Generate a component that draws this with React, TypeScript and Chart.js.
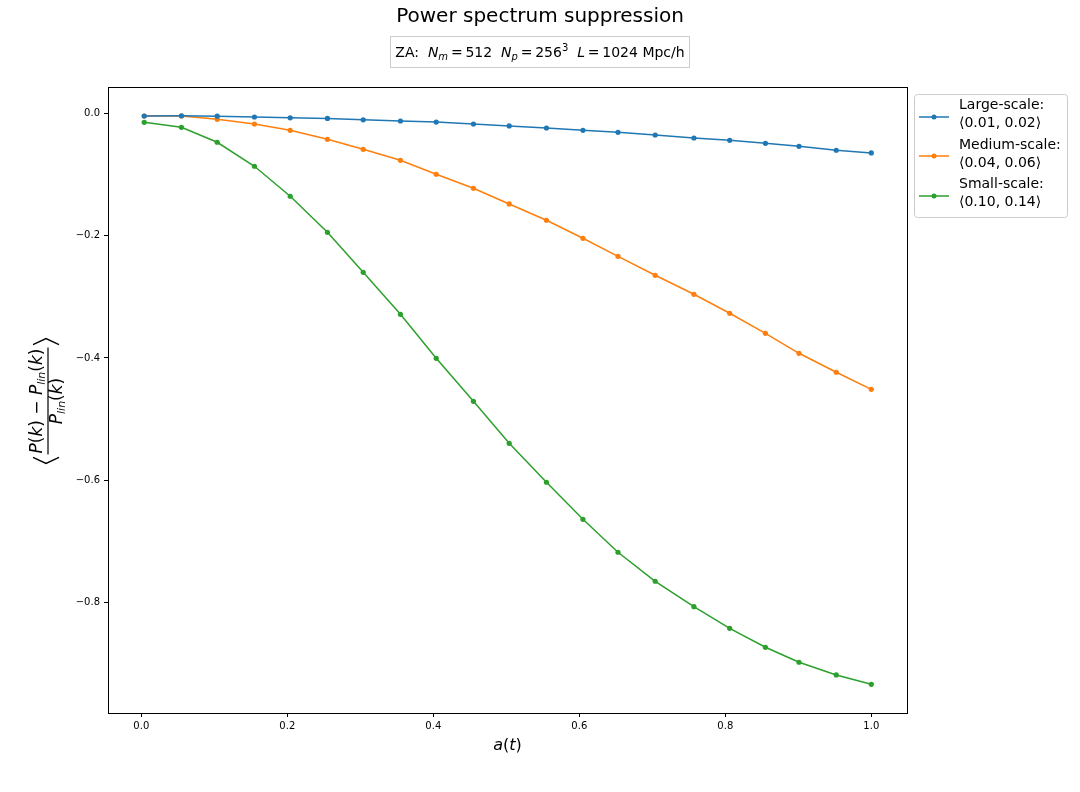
import React, { useEffect, useRef } from "react";
import { Chart, registerables } from "chart.js";

Chart.register(...registerables);

// ---- Data ----
const aValues = [0.004, 0.055, 0.104, 0.155, 0.204, 0.255, 0.304, 0.355, 0.404, 0.455, 0.504, 0.555, 0.605, 0.653, 0.704, 0.757, 0.806, 0.855, 0.901, 0.952, 1.0];
const largeScale = [-0.0038, -0.0035, -0.004, -0.0054, -0.0068, -0.0078, -0.01, -0.012, -0.0138, -0.0169, -0.0201, -0.0234, -0.0272, -0.0305, -0.0349, -0.0398, -0.0436, -0.0485, -0.0534, -0.0599, -0.0643];
const mediumScale = [-0.0038, -0.0038, -0.0092, -0.0169, -0.0272, -0.0419, -0.0583, -0.0763, -0.0992, -0.1221, -0.1478, -0.1745, -0.204, -0.2335, -0.2646, -0.2957, -0.3268, -0.3596, -0.3923, -0.4234, -0.4513];
const smallScale = [-0.0141, -0.0223, -0.0468, -0.0861, -0.1352, -0.1942, -0.2597, -0.3285, -0.4005, -0.4709, -0.5397, -0.6035, -0.6641, -0.7181, -0.7656, -0.8072, -0.8426, -0.8737, -0.8982, -0.919, -0.9343];

const seriesNames = ["Large-scale:", "Medium-scale:", "Small-scale:"];
const seriesRanges = ["\u27E80.01, 0.02\u27E9", "\u27E80.04, 0.06\u27E9", "\u27E80.10, 0.14\u27E9"];
const seriesColors = ["#1f77b4", "#ff7f0e", "#2ca02c"];

const xTicks = [0.0, 0.2, 0.4, 0.6, 0.8, 1.0];
const yTicks = [0.0, -0.2, -0.4, -0.6, -0.8];

const titleText = "Power spectrum suppression";

const FONT = "'DejaVu Sans', 'Noto Sans', sans-serif";
const TS = "\u2009"; // thin space used around '=' as in mathtext

type Seg = { t: string; it?: boolean; sz?: number; dy?: number };

function segFont(s: Seg, base: number) {
  return `${s.it ? "italic " : ""}${s.sz ?? base}px ${FONT}`;
}
function richWidth(ctx: CanvasRenderingContext2D, segs: Seg[], base: number) {
  let w = 0;
  for (const s of segs) {
    ctx.font = segFont(s, base);
    w += ctx.measureText(s.t).width;
  }
  return w;
}
function drawRich(ctx: CanvasRenderingContext2D, segs: Seg[], x: number, y: number, base: number, align: "left" | "center" = "left") {
  let cx = align === "center" ? x - richWidth(ctx, segs, base) / 2 : x;
  ctx.textAlign = "left";
  for (const s of segs) {
    ctx.font = segFont(s, base);
    ctx.fillText(s.t, cx, y + (s.dy ?? 0));
    cx += ctx.measureText(s.t).width;
  }
}

const decorPlugin = {
  id: "decor",
  afterDraw(chart: any) {
    const ctx: CanvasRenderingContext2D = chart.ctx;
    const ca = chart.chartArea;
    ctx.save();
    // frame (all four spines)
    ctx.strokeStyle = "#000";
    ctx.lineWidth = 1;
    ctx.strokeRect(Math.round(ca.left) + 0.5, Math.round(ca.top) + 0.5, Math.round(ca.right - ca.left), Math.round(ca.bottom - ca.top));

    ctx.fillStyle = "#000";
    ctx.textBaseline = "middle";
    // title
    ctx.font = `20px ${FONT}`;
    ctx.textAlign = "center";
    ctx.fillText(titleText, 540, 17);

    // subtitle box
    ctx.textBaseline = "alphabetic";
    const sub: Seg[] = [
      { t: "ZA:  " },
      { t: "N", it: true },
      { t: "m", it: true, sz: 10, dy: 3 },
      { t: `${TS}=${TS}512  ` },
      { t: "N", it: true },
      { t: "p", it: true, sz: 10, dy: 3 },
      { t: `${TS}=${TS}256` },
      { t: "3", sz: 10, dy: -6 },
      { t: "  " },
      { t: "L", it: true },
      { t: `${TS}=${TS}1024 Mpc/h` },
    ];
    const sw = richWidth(ctx, sub, 14);
    const sx = 540 - sw / 2;
    ctx.strokeStyle = "#cccccc";
    ctx.strokeRect(Math.round(sx - 5) + 0.5, 36.5, Math.round(sw + 10), 31);
    ctx.fillStyle = "#000";
    drawRich(ctx, sub, sx, 57, 14);

    // x label
    const xl: Seg[] = [{ t: "a", it: true }, { t: "(" }, { t: "t", it: true }, { t: ")" }];
    drawRich(ctx, xl, 507.5, 749.5, 16, "center");

    // y label (rotated fraction)
    ctx.save();
    ctx.translate(48, 401);
    ctx.rotate(-Math.PI / 2);
    const num: Seg[] = [
      { t: "P", it: true }, { t: "(" }, { t: "k", it: true }, { t: ")" }, { t: " \u2212 " },
      { t: "P", it: true }, { t: "lin", it: true, sz: 11, dy: 3 }, { t: "(" }, { t: "k", it: true }, { t: ")" },
    ];
    const den: Seg[] = [
      { t: "P", it: true }, { t: "lin", it: true, sz: 11, dy: 3 }, { t: "(" }, { t: "k", it: true }, { t: ")" },
    ];
    drawRich(ctx, num, 0, -6, 17, "center");
    drawRich(ctx, den, 0, 14, 17, "center");
    const nw = richWidth(ctx, num, 17);
    ctx.strokeStyle = "#000";
    ctx.lineWidth = 1.2;
    ctx.beginPath();
    ctx.moveTo(-nw / 2 - 1, 0);
    ctx.lineTo(nw / 2 + 1, 0);
    ctx.stroke();
    // angle brackets
    const bx = nw / 2 + 4;
    ctx.lineWidth = 1.3;
    ctx.beginPath();
    ctx.moveTo(-bx, -15);
    ctx.lineTo(-bx - 6, -2);
    ctx.lineTo(-bx, 11);
    ctx.stroke();
    ctx.beginPath();
    ctx.moveTo(bx, -15);
    ctx.lineTo(bx + 6, -2);
    ctx.lineTo(bx, 11);
    ctx.stroke();
    ctx.restore();

    // legend
    ctx.fillStyle = "rgba(255,255,255,0.8)";
    ctx.strokeStyle = "#cccccc";
    ctx.lineWidth = 1;
    ctx.beginPath();
    (ctx as any).roundRect(914.5, 94.5, 153, 123, 3);
    ctx.fill();
    ctx.stroke();
    const lineY = [117, 156, 196];
    const t1Y = [105, 145, 184];
    const t2Y = [123.5, 163, 202];
    ctx.textBaseline = "middle";
    for (let i = 0; i < 3; i++) {
      ctx.strokeStyle = seriesColors[i];
      ctx.lineWidth = 1.5;
      ctx.beginPath();
      ctx.moveTo(919, lineY[i]);
      ctx.lineTo(949, lineY[i]);
      ctx.stroke();
      ctx.fillStyle = seriesColors[i];
      ctx.beginPath();
      ctx.arc(934, lineY[i], 2.5, 0, Math.PI * 2);
      ctx.fill();
      ctx.fillStyle = "#000";
      ctx.font = `14px ${FONT}`;
      ctx.textAlign = "left";
      ctx.fillText(seriesNames[i], 959, t1Y[i]);
      ctx.fillText(seriesRanges[i], 959, t2Y[i]);
    }
    ctx.restore();
  },
};

function fmt(v: number) {
  const s = Math.abs(v).toFixed(1);
  return v < -1e-9 ? "\u2212" + s : s;
}

export default function App() {
  const ref = useRef<HTMLCanvasElement | null>(null);
  useEffect(() => {
    if (!ref.current) return;
    const seriesValues = [largeScale, mediumScale, smallScale];
    const chart = new Chart(ref.current, {
      type: "line",
      data: {
        datasets: seriesValues.map((vals, i) => ({
          label: seriesNames[i],
          data: aValues.map((a, j) => ({ x: a, y: vals[j] })),
          borderColor: seriesColors[i],
          backgroundColor: seriesColors[i],
          pointBackgroundColor: seriesColors[i],
          pointBorderWidth: 0,
          pointRadius: 2.6,
          borderWidth: 1.5,
          tension: 0,
          fill: false,
        })),
      },
      options: {
        animation: false,
        responsive: false,
        devicePixelRatio: 1,
        layout: { padding: { top: 87, right: 173, left: 48, bottom: 39 } },
        plugins: { legend: { display: false }, title: { display: false }, tooltip: { enabled: false } },
        scales: {
          x: {
            type: "linear",
            min: -0.0456,
            max: 1.0489,
            afterBuildTicks: (s: any) => { s.ticks = xTicks.map((v) => ({ value: v })); },
            afterFit: (s: any) => { s.height = 40; },
            ticks: { callback: (v: any) => fmt(Number(v)), font: { family: FONT, size: 10 }, color: "#000", padding: 3, maxRotation: 0 },
            grid: { display: true, drawOnChartArea: false, drawTicks: true, tickLength: 4, color: "#000" },
            border: { display: false },
          },
          y: {
            type: "linear",
            min: -0.9813,
            max: 0.0437,
            afterBuildTicks: (s: any) => { s.ticks = yTicks.map((v) => ({ value: v })); },
            afterFit: (s: any) => { s.width = 60; },
            ticks: { callback: (v: any) => fmt(Number(v)), font: { family: FONT, size: 10 }, color: "#000", padding: 4 },
            grid: { display: true, drawOnChartArea: false, drawTicks: true, tickLength: 4, color: "#000" },
            border: { display: false },
          },
        },
      } as any,
      plugins: [decorPlugin],
    });
    return () => chart.destroy();
  }, []);
  return (
    <div style={{ position: "absolute", left: 0, top: 0, width: 1080, height: 792, background: "#fff" }}>
      <canvas ref={ref} width={1080} height={792} style={{ display: "block", width: 1080, height: 792 }} />
    </div>
  );
}
